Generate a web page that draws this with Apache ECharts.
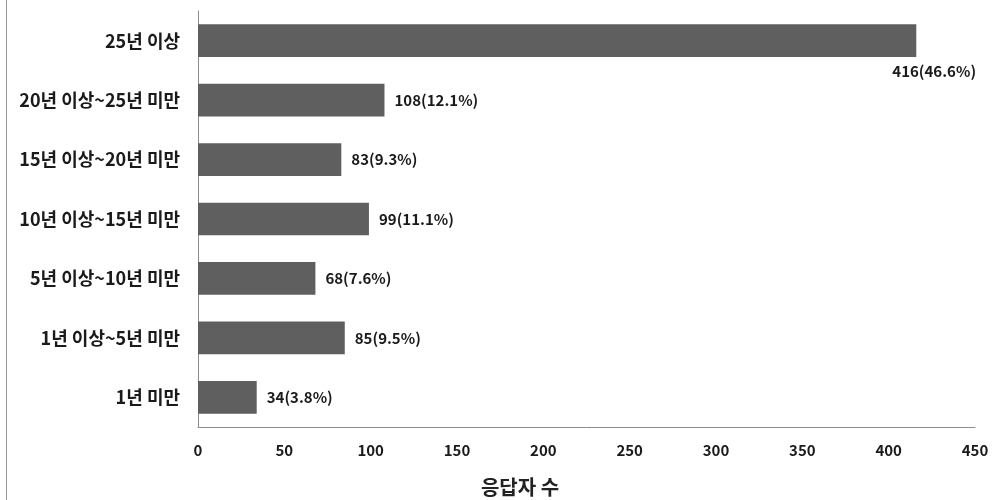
<!DOCTYPE html>
<html>
<head>
<meta charset="utf-8">
<script src="https://cdn.jsdelivr.net/npm/echarts@6/dist/echarts.min.js"></script>
<style>
html,body{margin:0;padding:0;background:#fff;}
#main{width:994px;height:500px;}
</style>
</head>
<body>
<div id="main"></div>
<script>
var categories = ['1년 미만', '1년 이상~5년 미만', '5년 이상~10년 미만', '10년 이상~15년 미만', '15년 이상~20년 미만', '20년 이상~25년 미만', '25년 이상'];
var counts = [34, 85, 68, 99, 83, 108, 416];
var percents = ['3.8', '9.5', '7.6', '11.1', '9.3', '12.1', '46.6'];
var xTicks = [0, 50, 100, 150, 200, 250, 300, 350, 400, 450];

var FONT = '"Noto Sans CJK KR", "Noto Sans", sans-serif';
var chart = echarts.init(document.getElementById('main'));

var seriesData = counts.map(function (v, i) {
  var item = { value: v };
  if (i === counts.length - 1) {
    item.label = { position: 'right', offset: [-34, 31] };
  }
  return item;
});

chart.setOption({
  animation: false,
  backgroundColor: '#fff',
  grid: { left: 198, right: 19, top: 11, bottom: 73, containLabel: false },
  title: {
    text: '응답자 수',
    left: 515,
    top: 472,
    textAlign: 'center',
    textStyle: { fontFamily: FONT, fontSize: 20, fontWeight: 'bold', color: '#222' }
  },
  xAxis: {
    type: 'value',
    min: xTicks[0],
    max: xTicks[xTicks.length - 1],
    interval: 50,
    axisLine: { show: true, lineStyle: { color: '#8c8c8c', width: 1 } },
    axisTick: { show: false },
    splitLine: { show: false },
    axisLabel: { margin: 16, fontFamily: FONT, fontSize: 15, fontWeight: 'bold', color: '#1a1a1a' }
  },
  yAxis: {
    type: 'category',
    data: categories,
    axisLine: { show: true, lineStyle: { color: '#8c8c8c', width: 1 } },
    axisTick: { show: false },
    axisLabel: { margin: 18, fontFamily: FONT, fontSize: 18, fontWeight: 'bold', color: '#1a1a1a' }
  },
  graphic: [{
    type: 'line',
    shape: { x1: 6.5, y1: 0, x2: 6.5, y2: 500 },
    style: { stroke: '#9a9a9a', lineWidth: 1 }
  }],
  series: [{
    type: 'bar',
    data: seriesData,
    barWidth: '55%',
    itemStyle: { color: '#5f5f5f' },
    label: {
      show: true,
      position: 'right',
      distance: 10,
      fontFamily: FONT,
      fontSize: 15,
      fontWeight: 'bold',
      color: '#1a1a1a',
      formatter: function (p) { return p.value + '(' + percents[p.dataIndex] + '%)'; }
    }
  }]
});
</script>
</body>
</html>
